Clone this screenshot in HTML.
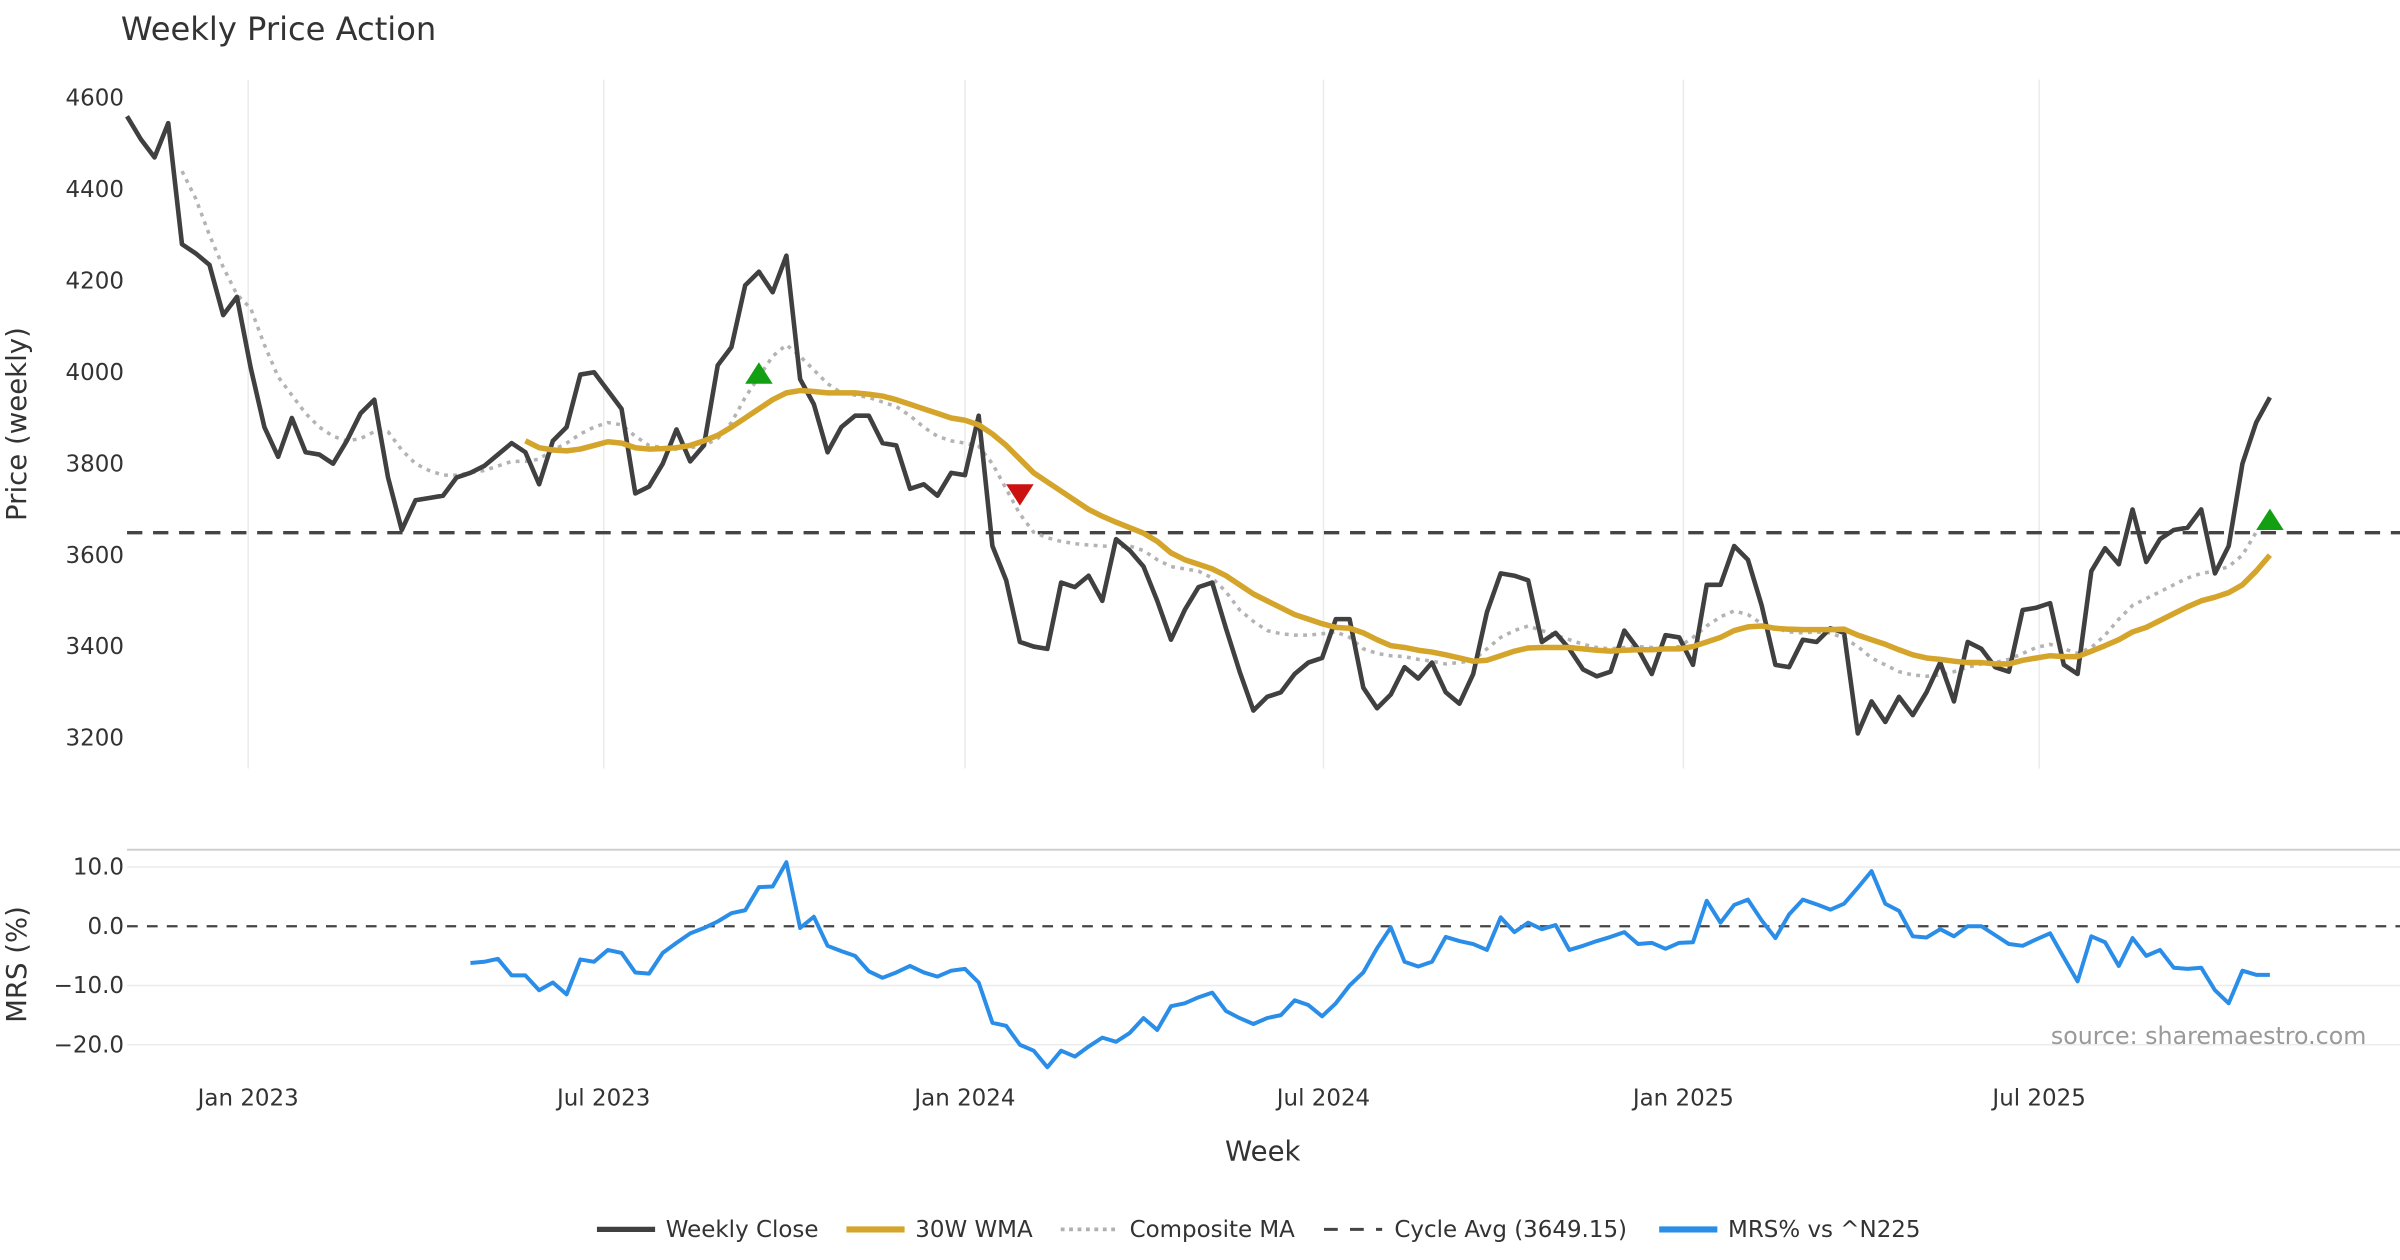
<!DOCTYPE html>
<html><head><meta charset="utf-8"><style>
html,body{margin:0;padding:0;background:#fff;}
svg{display:block;font-family:"DejaVu Sans","Liberation Sans",sans-serif;}
</style></head><body>
<svg id="chart" width="2400" height="1260" viewBox="0 0 1568 823" preserveAspectRatio="none" xmlns="http://www.w3.org/2000/svg">
<text x="79" y="26" font-size="21" fill="#333">Weekly Price Action</text>
<g id="grid"></g>
<g id="series"></g>
<g id="axes"></g>
<text x="1546" y="682" font-size="15.5" fill="#999" text-anchor="end">source: sharemaestro.com</text>
<text x="825" y="758" font-size="18" fill="#333" text-anchor="middle">Week</text>
<text transform="translate(17,277) rotate(-90)" font-size="18" fill="#333" text-anchor="middle">Price (weekly)</text>
<text transform="translate(17,630) rotate(-90)" font-size="18" fill="#333" text-anchor="middle">MRS (%)</text>
<g font-size="15" fill="#333">
<g><line x1="390" y1="803" x2="428" y2="803" stroke="#404040" stroke-width="3.5"/><text x="435" y="808">Weekly Close</text></g>
<g><line x1="553" y1="803" x2="591" y2="803" stroke="#d4a52a" stroke-width="4"/><text x="598" y="808">30W WMA</text></g>
<g><line x1="693" y1="803" x2="731" y2="803" stroke="#b0b0b0" stroke-width="2.5" stroke-dasharray="2.5,3"/><text x="738" y="808">Composite MA</text></g>
<g><line x1="865" y1="803" x2="903" y2="803" stroke="#444" stroke-width="2" stroke-dasharray="9,8"/><text x="911" y="808">Cycle Avg (3649.15)</text></g>
<g><line x1="1084" y1="803" x2="1122" y2="803" stroke="#2a8de8" stroke-width="4"/><text x="1129" y="808">MRS% vs ^N225</text></g>
</g>
</svg>
<script>
const closeValues=[4560,4510,4470,4545,4280,4260,4235,4125,4165,4010,3880,3815,3900,3825,3820,3800,3850,3910,3940,3770,3655,3720,3725,3730,3770,3780,3795,3820,3845,3825,3755,3850,3880,3995,4000,3960,3920,3735,3750,3800,3875,3805,3840,4015,4055,4190,4220,4175,4255,3985,3930,3825,3880,3905,3905,3845,3840,3745,3755,3730,3780,3775,3905,3620,3545,3410,3400,3395,3540,3530,3555,3500,3635,3610,3575,3500,3415,3480,3530,3540,
3440,3345,3260,3290,3300,3340,3365,3375,3460,3460,3310,3265,3295,3355,3330,3365,3300,3275,3340,3475,3560,3555,3545,3410,3430,3395,3350,3335,3345,3435,3395,3340,3425,3420,3360,3535,3535,3620,3590,3490,3360,3355,3415,3410,3440,3430,3210,3280,3235,3290,3250,3300,3365,3280,3410,3395,3355,3345,3480,3485,3495,3360,3340,3565,3615,3580,3700,3585,3635,3655,3660,3700,3560,3620,3800,3890,3945];
const wmaStart=29;
const wmaValues=[3850,3835,3830,3828,3832,3840,3848,3845,3835,3832,3833,3835,3840,3850,3862,3880,3900,3920,3940,3955,3960,3958,3955,3955,3955,3952,3948,3940,3930,3920,3910,3900,3895,3885,3865,3840,3810,3780,3760,3740,3720,3700,3685,3672,3660,3648,3630,3605,3590,3580,3570,3555,3535,3515,3500,3485,3470,3460,3450,3442,3440,3430,3415,3402,3398,3392,3388,3382,3375,3368,3370,3380,3390,3397,3398,3398,3398,3395,3392,3390,3392,3393,3393,3395,3395,3400,3410,3420,3435,3443,3445,3440,3438,3437,3437,3437,3438,3425,3415,3405,3393,3382,3375,3372,3368,3365,3365,3362,3362,3370,3375,3380,3378,3378,3390,3402,3415,3432,3442,3457,3472,3487,3500,3508,3518,3535,3565,3600];
const compStart=4;
const compValues=[4440,4380,4300,4230,4170,4140,4060,3990,3950,3910,3880,3860,3850,3855,3870,3870,3830,3800,3785,3775,3775,3780,3785,3795,3805,3805,3810,3830,3845,3865,3880,3890,3885,3860,3840,3835,3832,3835,3840,3855,3890,3945,3990,4035,4060,4035,4005,3975,3955,3950,3945,3935,3925,3905,3880,3860,3850,3845,3838,3800,3745,3690,3650,3638,3630,3625,3622,3620,3618,3620,3610,3590,3575,3570,3565,3550,3520,3480,3455,3435,3428,3425,3425,3428,3432,3420,3395,3385,3380,3378,3372,3368,3362,3365,3370,3395,3420,3435,3445,3435,3425,3415,3405,3398,3395,3398,3400,3398,3395,3400,3420,3445,3465,3478,3470,3450,3440,3432,3430,3432,3430,3418,3400,3375,3360,3345,3338,3335,3338,3345,3355,3362,3365,3372,3385,3398,3405,3395,3385,3398,3425,3460,3490,3505,3520,3535,3550,3560,3565,3575,3600,3650,3680];
const mrsStart=25;
const mrsValues=[-6.2,-6.0,-5.5,-8.3,-8.3,-10.8,-9.5,-11.5,-5.6,-6.0,-4.0,-4.5,-7.8,-8.0,-4.5,-2.8,-1.2,-0.3,0.8,2.2,2.7,6.6,6.7,10.8,-0.3,1.6,-3.3,-4.2,-5.0,-7.6,-8.7,-7.8,-6.7,-7.8,-8.5,-7.5,-7.2,-9.5,-16.3,-16.8,-20.0,-21.0,-23.8,-21.0,-22.0,-20.3,-18.8,-19.5,-18.0,-15.5,-17.5,-13.5,-13.0,-12.0,-11.2,-14.3,-15.5,-16.5,-15.5,-15.0,-12.5,-13.3,-15.2,-13.0,-10.0,-7.8,-3.7,-0.2,-6.0,-6.8,-6.0,-1.8,-2.5,-3.0,-4.0,1.5,-1.0,0.6,-0.5,0.2,-4.0,-3.3,-2.5,-1.8,-1.0,-3.0,-2.8,-3.8,-2.8,-2.7,4.3,0.6,3.6,4.5,1.0,-2.0,2.0,4.5,3.7,2.8,3.8,6.5,9.3,3.8,2.6,-1.7,-1.9,-0.5,-1.7,0.0,0.0,-1.5,-3.0,-3.3,-2.2,-1.2,-5.3,-9.3,-1.7,-2.7,-6.7,-2.0,-5.0,-4.0,-7.0,-7.2,-7.0,-10.8,-13.0,-7.5,-8.2,-8.2];
const cycleAvg=3649.15;
const priceTicks=[4600,4400,4200,4000,3800,3600,3400,3200];
const mrsTicks=[10,0,-10,-20];
const dateLabels=["Jan 2023","Jul 2023","Jan 2024","Jul 2024","Jan 2025","Jul 2025"];
const dateWeekIdx=[8.82,34.7,61.0,87.1,113.3,139.2];
const signalUpIdx=[46,156];
const signalUpVal=[3995,3675];
const signalDownIdx=[65];
const signalDownVal=[3735];

const NS="http://www.w3.org/2000/svg";
const xS=i=>83+i*(1400/156);
const yP=v=>64+(4600-v)*0.2986;
const yM=v=>605-v*3.87;
function mk(tag,attrs,parent){const e=document.createElementNS(NS,tag);for(const k in attrs)e.setAttribute(k,attrs[k]);parent.appendChild(e);return e;}
const grid=document.getElementById('grid'),series=document.getElementById('series'),axes=document.getElementById('axes');
dateWeekIdx.forEach((w,k)=>{
  const l=mk('line',{x1:xS(w),x2:xS(w),y1:52,y2:502,stroke:'#ebebeb','stroke-width':1},grid);
  
  
  const t=mk('text',{x:xS(w),y:722,'font-size':15,fill:'#333','text-anchor':'middle'},axes);
  t.textContent=dateLabels[k];
  
  
});
priceTicks.forEach(v=>{
  const t=mk('text',{x:81,y:yP(v)+5,'font-size':15,fill:'#333','text-anchor':'end'},axes);
  t.textContent=v;
  
  
});
const sep=mk('line',{x1:83,x2:1568,y1:555,y2:555,stroke:'#cfcfcf','stroke-width':1.3},grid);


mrsTicks.forEach(v=>{
  if(v!==0){const g=mk('line',{x1:83,x2:1568,y1:yM(v),y2:yM(v),stroke:'#ececec','stroke-width':1},grid);
  
  }
  const t=mk('text',{x:81,y:yM(v)+5,'font-size':15,fill:'#333','text-anchor':'end'},axes);
  t.textContent=(v<0?'\u2212'+Math.abs(v).toFixed(1):v.toFixed(1));
  
  
});
const z=mk('line',{x1:83,x2:1568,y1:yM(0),y2:yM(0),stroke:'#444','stroke-width':1.5,'stroke-dasharray':'7,6'},series);


const cy=mk('line',{x1:83,x2:1568,y1:yP(cycleAvg),y2:yP(cycleAvg),stroke:'#444','stroke-width':2.2,'stroke-dasharray':'10,7'},series);


function path(vals,start,yf,attrs,name){
  const d=vals.map((v,i)=>(i?'L':'M')+xS(start+i).toFixed(2)+','+yf(v).toFixed(2)).join('');
  const p=mk('path',Object.assign({d:d,fill:'none','stroke-linejoin':'round'},attrs),series);
  
  
}
path(compValues,compStart,yP,{stroke:'#b3b3b3','stroke-width':2.3,'stroke-dasharray':'2.5,3.5'},'composite-ma-line');
path(closeValues,0,yP,{stroke:'#404040','stroke-width':3},'weekly-close-line');
path(wmaValues,wmaStart,yP,{stroke:'#d4a52a','stroke-width':3.6},'wma-30w-line');
path(mrsValues,mrsStart,yM,{stroke:'#2a8de8','stroke-width':2.6},'mrs-line');
signalUpIdx.forEach((w,k)=>{
  const x=xS(w),y=yP(signalUpVal[k]);
  const t=mk('polygon',{points:`${x-9},${y+6} ${x+9},${y+6} ${x},${y-8}`,fill:'#12a012'},series);
  
  
});
signalDownIdx.forEach((w,k)=>{
  const x=xS(w),y=yP(signalDownVal[k]);
  const t=mk('polygon',{points:`${x-9},${y-6} ${x+9},${y-6} ${x},${y+8}`,fill:'#cc1111'},series);
  
  
});
</script>
</body></html>
